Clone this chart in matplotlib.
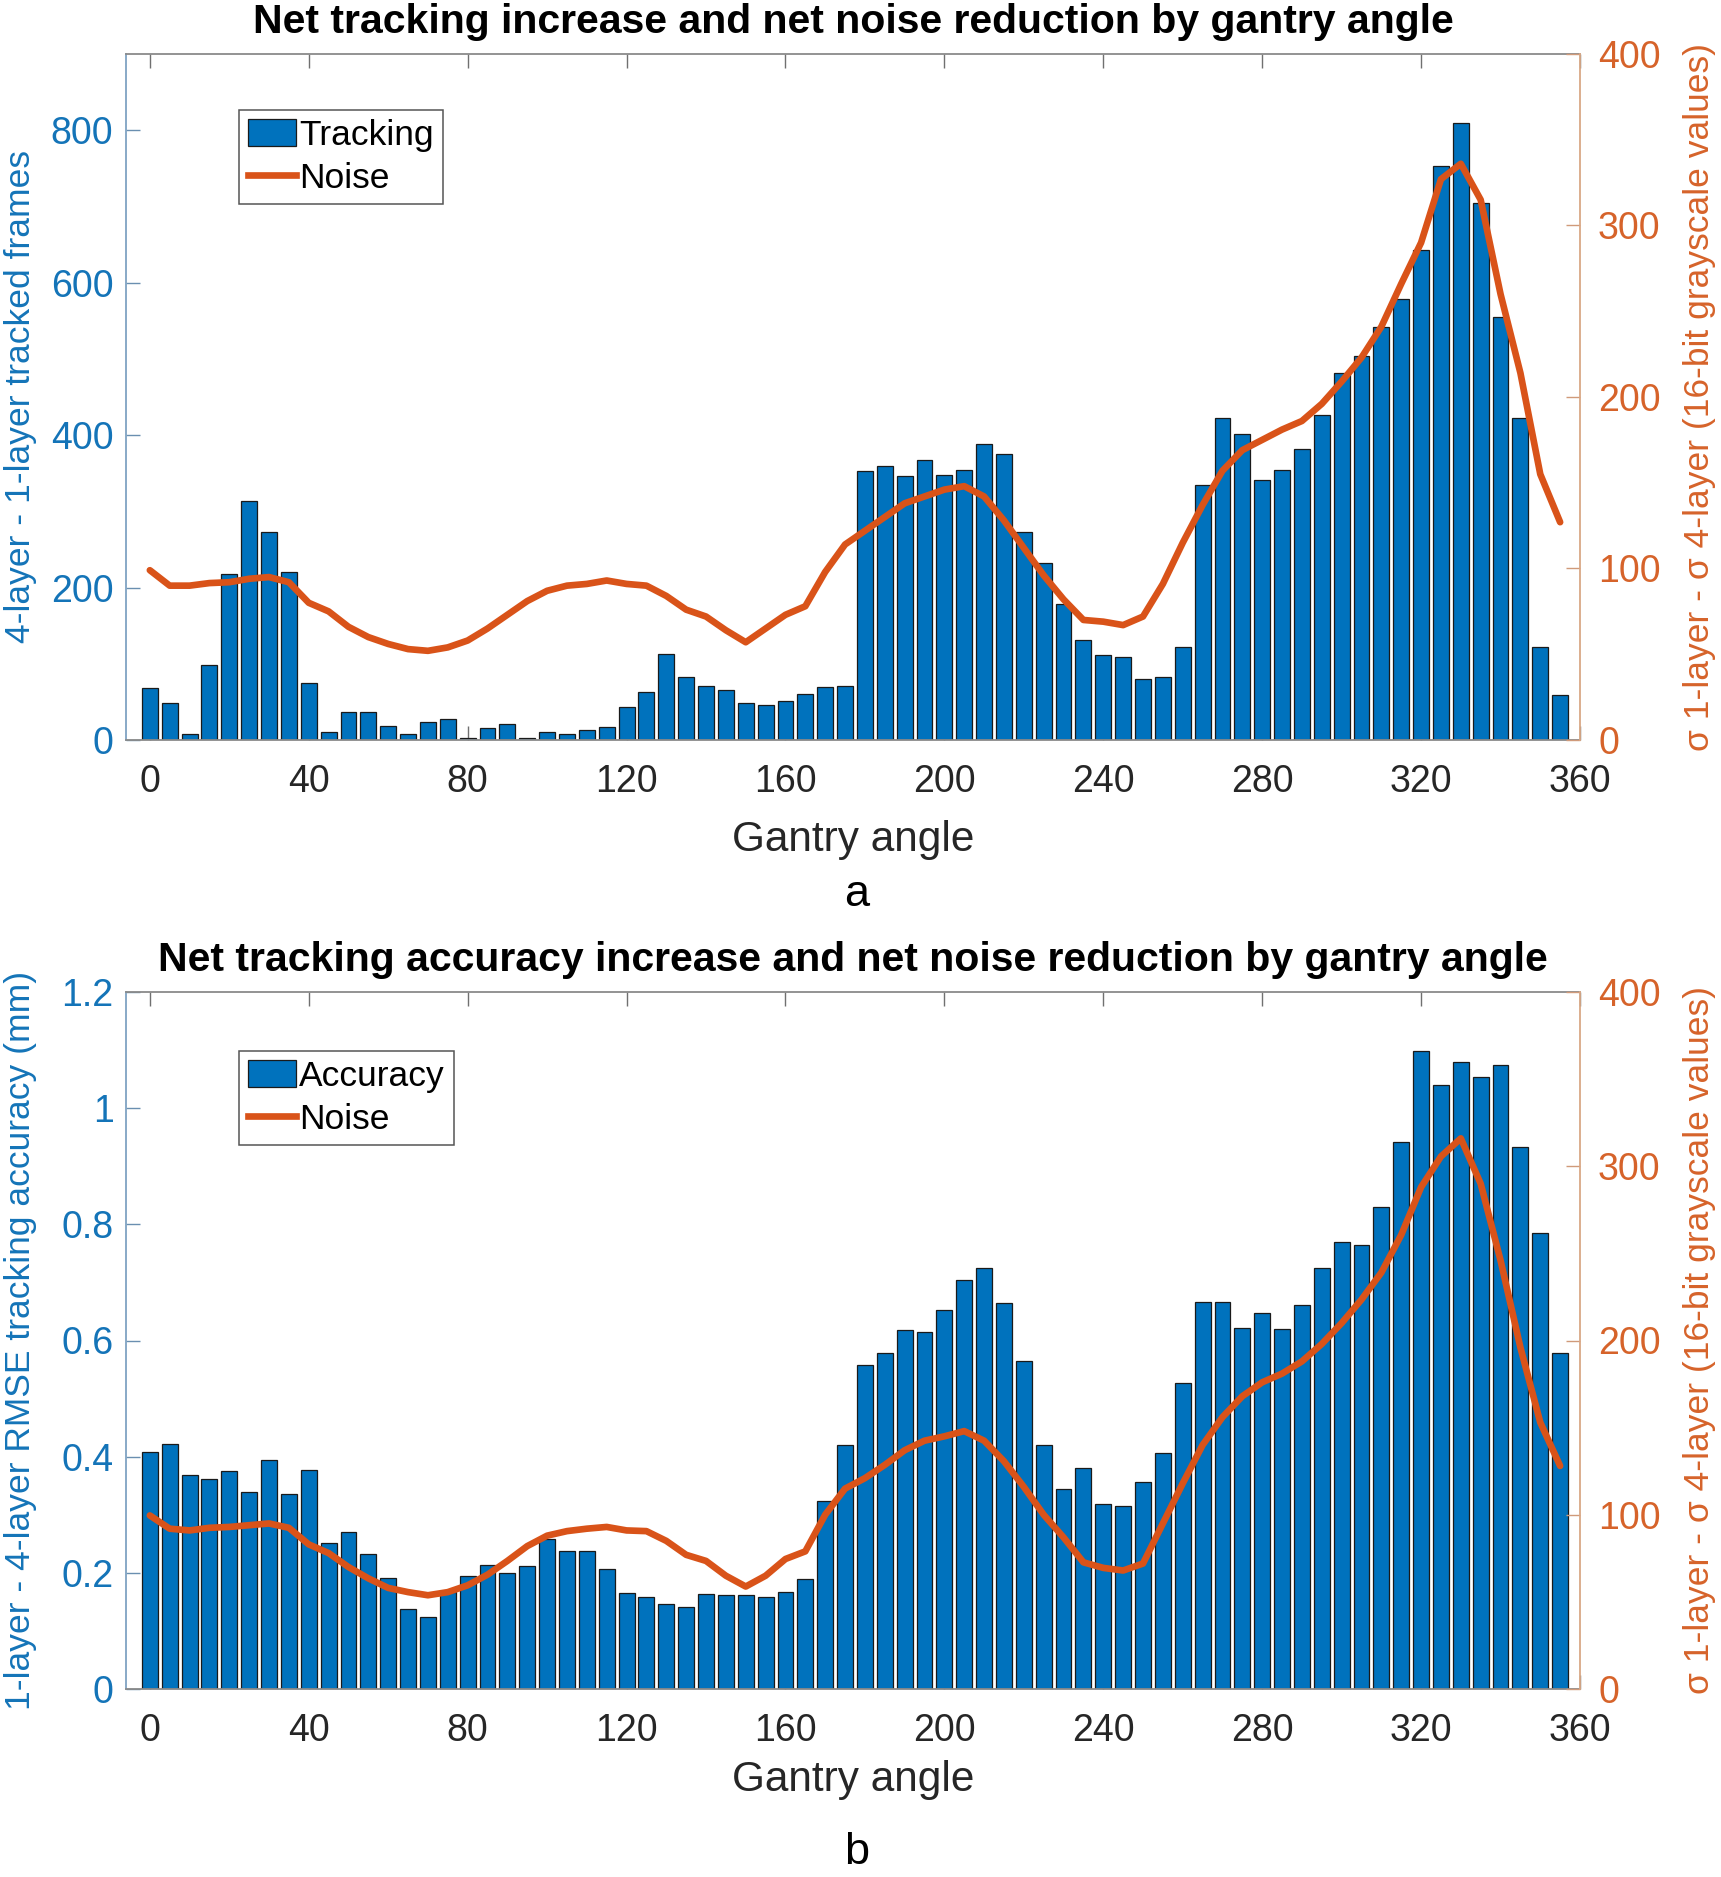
import matplotlib
matplotlib.use("Agg")
import matplotlib.pyplot as plt
from matplotlib.patches import Patch
from matplotlib.lines import Line2D

plt.rcParams['font.family'] = ['Liberation Sans', 'DejaVu Sans']

# ---------------- data ----------------
angles = [0, 5, 10, 15, 20, 25, 30, 35, 40, 45, 50, 55, 60, 65, 70, 75, 80, 85, 90, 95,
          100, 105, 110, 115, 120, 125, 130, 135, 140, 145, 150, 155, 160, 165, 170, 175,
          180, 185, 190, 195, 200, 205, 210, 215, 220, 225, 230, 235, 240, 245, 250, 255,
          260, 265, 270, 275, 280, 285, 290, 295, 300, 305, 310, 315, 320, 325, 330, 335,
          340, 345, 350, 355]

tracking = [68, 48, 8, 98, 218, 313, 273, 220, 75, 11, 37, 37, 18, 8, 23, 28, 2, 16, 21, 3,
            11, 8, 13, 17, 43, 63, 113, 83, 71, 66, 48, 46, 51, 61, 70, 71,
            353, 360, 347, 368, 348, 354, 388, 375, 273, 232, 179, 131, 111, 109, 80, 82,
            122, 335, 423, 401, 341, 354, 382, 427, 481, 504, 542, 578, 643, 753, 809, 705,
            555, 422, 122, 59]

noise_a = [99, 90, 90, 91.5, 92, 94, 95, 92, 80, 75, 66, 60, 56, 53, 52, 54, 58, 65, 73, 81,
           87, 90, 91, 93, 91, 90, 84, 76, 72, 64, 57, 65, 73, 78, 98, 114,
           122, 130, 138, 142, 146, 148, 142, 128, 112, 96, 82, 70, 69, 67, 72, 91,
           115, 137, 157, 169, 175, 181, 186, 196, 209, 223, 241, 266, 290, 327, 336, 315,
           260, 214, 155, 127]

accuracy = [0.408, 0.422, 0.369, 0.362, 0.375, 0.339, 0.395, 0.336, 0.377, 0.251, 0.270, 0.233,
            0.191, 0.138, 0.124, 0.167, 0.195, 0.214, 0.199, 0.212, 0.258, 0.237, 0.238, 0.207,
            0.166, 0.159, 0.146, 0.142, 0.163, 0.161, 0.161, 0.159, 0.167, 0.189, 0.323, 0.420,
            0.557, 0.579, 0.618, 0.614, 0.653, 0.705, 0.725, 0.665, 0.564, 0.420, 0.345, 0.380,
            0.319, 0.315, 0.356, 0.407, 0.526, 0.667, 0.667, 0.622, 0.648, 0.619, 0.661, 0.725,
            0.770, 0.765, 0.830, 0.941, 1.098, 1.040, 1.080, 1.054, 1.074, 0.933, 0.785, 0.579]

noise_b = [99.6, 92, 91, 92.5, 93, 94, 95, 92.5, 83, 78, 70, 63.5, 58, 55.6, 53.8, 55.6, 59.5,
           65.6, 73.5, 82, 88, 90.6, 92, 93, 91, 90.6, 85, 77, 73.5, 65, 58.8, 65, 74.6, 79,
           100, 115, 121, 128.6, 137, 142.5, 145, 148, 142.5, 130.7, 116, 100, 87, 72.7, 69.5,
           68, 72, 95, 118, 140, 156, 168, 176, 181, 188, 198, 210, 223.5, 239, 260.6, 288,
           305.6, 316, 290, 246, 196, 153, 128]

xticks = [0, 40, 80, 120, 160, 200, 240, 280, 320, 360]

# ---------------- style ----------------
BLUE = '#0072BD'
ORANGE = '#D95319'
BLUE_TXT = '#1474B8'
ORANGE_TXT = '#D6632A'
DARK = '#262626'
TICK_FS = 27
LABEL_FS = 25.5
XLABEL_FS = 30.5
TITLE_FS = 29.5
LEG_FS = 25.5
LINE_W = 4.8

W, H = 1721, 1877
fig = plt.figure(figsize=(W / 100, H / 100), dpi=100)


def make_panel(rect, values, noise, lylim, lyticks, lyticklabels, ylabel_left,
               bar_label, title, title_y, xlabel_y, letter, letter_y, leg_anchor):
    ax = fig.add_axes(rect)
    axr = ax.twinx()
    ax.bar(angles, values, width=4, color=BLUE, edgecolor='#1a1a1a', linewidth=0.9, zorder=2)
    axr.plot(angles, noise, color=ORANGE, linewidth=LINE_W, solid_joinstyle='round',
             solid_capstyle='round', zorder=3)

    ax.set_xlim(-6, 360)
    ax.set_ylim(*lylim)
    axr.set_ylim(0, 400)
    ax.set_xticks(xticks)
    ax.set_xticklabels([str(t) for t in xticks])
    ax.set_yticks(lyticks)
    ax.set_yticklabels(lyticklabels)
    axr.set_yticks([0, 100, 200, 300, 400])
    axr.set_yticklabels(['0', '100', '200', '300', '400'])

    ax.tick_params(axis='x', direction='in', length=10, width=1.0, top=True, bottom=True,
                   color='#707070', labelcolor=DARK, labelsize=TICK_FS, pad=17)
    ax.tick_params(axis='y', direction='in', length=10, width=1.0, left=True, right=False,
                   color='#6a8fb0', labelcolor=BLUE_TXT, labelsize=TICK_FS, pad=9)
    axr.tick_params(axis='y', direction='in', length=10, width=1.0, left=False, right=True,
                    color='#d09a7a', labelcolor=ORANGE_TXT, labelsize=TICK_FS, pad=13)

    for s in ['top', 'bottom']:
        ax.spines[s].set_color('#8a8a8a')
        ax.spines[s].set_linewidth(1.3)
        axr.spines[s].set_visible(False)
    ax.spines['left'].set_color('#7fa3c3')
    ax.spines['left'].set_linewidth(1.3)
    ax.spines['right'].set_visible(False)
    axr.spines['left'].set_visible(False)
    axr.spines['right'].set_color('#d9a886')
    axr.spines['right'].set_linewidth(1.3)

    handles = [Patch(facecolor=BLUE, edgecolor='#1a1a1a', linewidth=0.9),
               Line2D([0], [0], color=ORANGE, linewidth=LINE_W)]
    leg = axr.legend(handles, [bar_label, 'Noise'], loc='upper left',
                     bbox_to_anchor=leg_anchor, fontsize=LEG_FS, frameon=True,
                     fancybox=False, framealpha=1, edgecolor='#555555',
                     handlelength=1.35, handleheight=0.8, handletextpad=0.1,
                     labelspacing=0.28, borderpad=0.25, borderaxespad=0.0)
    leg.get_frame().set_linewidth(1.1)

    cx = rect[0] + rect[2] / 2
    fig.text(cx, title_y, title, ha='center', va='center', fontsize=TITLE_FS,
             fontweight='bold', color='black')
    fig.text(cx, xlabel_y, 'Gantry angle', ha='center', va='center',
             fontsize=XLABEL_FS, color=DARK)
    fig.text(cx + 0.002, letter_y, letter, ha='center', va='center',
             fontsize=XLABEL_FS + 2, color='black')
    cy = rect[1] + rect[3] / 2
    fig.text(21 / W, cy, ylabel_left, rotation=90, ha='center', va='center',
             fontsize=LABEL_FS, color=BLUE_TXT)
    fig.text(1699 / W, cy, '\u03c3 1-layer - \u03c3 4-layer (16-bit grayscale values)',
             rotation=90, ha='center', va='center', fontsize=LABEL_FS, color=ORANGE_TXT)
    return ax, axr


rect_a = [126 / W, 1 - 740 / H, 1454 / W, 686 / H]
rect_b = [126 / W, 1 - 1689 / H, 1454 / W, 697 / H]

make_panel(rect_a, tracking, noise_a, (0, 900), [0, 200, 400, 600, 800],
           ['0', '200', '400', '600', '800'], '4-layer - 1-layer tracked frames',
           'Tracking', 'Net tracking increase and net noise reduction by gantry angle',
           1 - 22 / H, 1 - 840 / H, 'a', 1 - 894 / H, (0.0777, 0.918))

make_panel(rect_b, accuracy, noise_b, (0, 1.2), [0, 0.2, 0.4, 0.6, 0.8, 1.0, 1.2],
           ['0', '0.2', '0.4', '0.6', '0.8', '1', '1.2'],
           '1-layer - 4-layer RMSE tracking accuracy (mm)',
           'Accuracy', 'Net tracking accuracy increase and net noise reduction by gantry angle',
           1 - 960 / H, 1 - 1780 / H, 'b', 1 - 1853 / H, (0.0777, 0.915))

fig.savefig('out.png', dpi=100, facecolor='white')
